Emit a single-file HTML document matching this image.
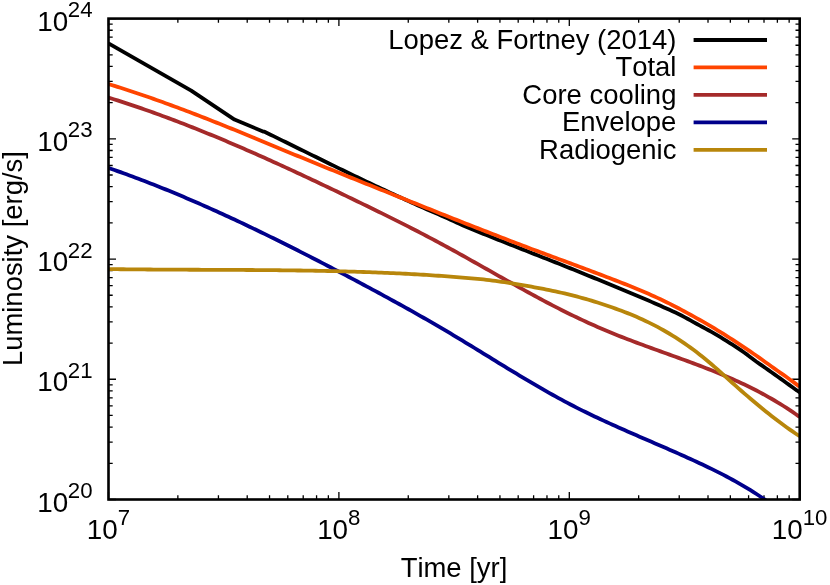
<!DOCTYPE html>
<html><head><meta charset="utf-8"><title>Luminosity vs Time</title>
<style>
html,body{margin:0;padding:0;background:#fff;}
body{width:830px;height:585px;overflow:hidden;position:relative;font-family:"Liberation Sans",sans-serif;}
</style></head><body>
<svg width="830" height="585" viewBox="0 0 830 585" style="position:absolute;left:0;top:0;will-change:transform;font-kerning:none">
<defs><clipPath id="c"><rect x="108.5" y="18.6" width="691.2" height="480.9"/></clipPath></defs>
<rect width="830" height="585" fill="#fff"/>
<path d="M108.50,499.5 v-7.5 M108.50,18.6 v7.5 M177.86,499.5 v-4.2 M177.86,18.6 v4.2 M218.43,499.5 v-4.2 M218.43,18.6 v4.2 M247.21,499.5 v-4.2 M247.21,18.6 v4.2 M269.54,499.5 v-4.2 M269.54,18.6 v4.2 M287.79,499.5 v-4.2 M287.79,18.6 v4.2 M303.21,499.5 v-4.2 M303.21,18.6 v4.2 M316.57,499.5 v-4.2 M316.57,18.6 v4.2 M328.36,499.5 v-4.2 M328.36,18.6 v4.2 M338.90,499.5 v-7.5 M338.90,18.6 v7.5 M408.26,499.5 v-4.2 M408.26,18.6 v4.2 M448.83,499.5 v-4.2 M448.83,18.6 v4.2 M477.61,499.5 v-4.2 M477.61,18.6 v4.2 M499.94,499.5 v-4.2 M499.94,18.6 v4.2 M518.19,499.5 v-4.2 M518.19,18.6 v4.2 M533.61,499.5 v-4.2 M533.61,18.6 v4.2 M546.97,499.5 v-4.2 M546.97,18.6 v4.2 M558.76,499.5 v-4.2 M558.76,18.6 v4.2 M569.30,499.5 v-7.5 M569.30,18.6 v7.5 M638.66,499.5 v-4.2 M638.66,18.6 v4.2 M679.23,499.5 v-4.2 M679.23,18.6 v4.2 M708.01,499.5 v-4.2 M708.01,18.6 v4.2 M730.34,499.5 v-4.2 M730.34,18.6 v4.2 M748.59,499.5 v-4.2 M748.59,18.6 v4.2 M764.01,499.5 v-4.2 M764.01,18.6 v4.2 M777.37,499.5 v-4.2 M777.37,18.6 v4.2 M789.16,499.5 v-4.2 M789.16,18.6 v4.2 M799.70,499.5 v-7.5 M799.70,18.6 v7.5 M108.5,499.50 h7.5 M799.7,499.50 h-7.5 M108.5,463.31 h4.2 M799.7,463.31 h-4.2 M108.5,442.14 h4.2 M799.7,442.14 h-4.2 M108.5,427.12 h4.2 M799.7,427.12 h-4.2 M108.5,415.47 h4.2 M799.7,415.47 h-4.2 M108.5,405.95 h4.2 M799.7,405.95 h-4.2 M108.5,397.90 h4.2 M799.7,397.90 h-4.2 M108.5,390.93 h4.2 M799.7,390.93 h-4.2 M108.5,384.78 h4.2 M799.7,384.78 h-4.2 M108.5,379.27 h7.5 M799.7,379.27 h-7.5 M108.5,343.08 h4.2 M799.7,343.08 h-4.2 M108.5,321.91 h4.2 M799.7,321.91 h-4.2 M108.5,306.89 h4.2 M799.7,306.89 h-4.2 M108.5,295.24 h4.2 M799.7,295.24 h-4.2 M108.5,285.72 h4.2 M799.7,285.72 h-4.2 M108.5,277.67 h4.2 M799.7,277.67 h-4.2 M108.5,270.70 h4.2 M799.7,270.70 h-4.2 M108.5,264.55 h4.2 M799.7,264.55 h-4.2 M108.5,259.05 h7.5 M799.7,259.05 h-7.5 M108.5,222.86 h4.2 M799.7,222.86 h-4.2 M108.5,201.69 h4.2 M799.7,201.69 h-4.2 M108.5,186.67 h4.2 M799.7,186.67 h-4.2 M108.5,175.02 h4.2 M799.7,175.02 h-4.2 M108.5,165.50 h4.2 M799.7,165.50 h-4.2 M108.5,157.45 h4.2 M799.7,157.45 h-4.2 M108.5,150.48 h4.2 M799.7,150.48 h-4.2 M108.5,144.33 h4.2 M799.7,144.33 h-4.2 M108.5,138.83 h7.5 M799.7,138.83 h-7.5 M108.5,102.63 h4.2 M799.7,102.63 h-4.2 M108.5,81.46 h4.2 M799.7,81.46 h-4.2 M108.5,66.44 h4.2 M799.7,66.44 h-4.2 M108.5,54.79 h4.2 M799.7,54.79 h-4.2 M108.5,45.27 h4.2 M799.7,45.27 h-4.2 M108.5,37.22 h4.2 M799.7,37.22 h-4.2 M108.5,30.25 h4.2 M799.7,30.25 h-4.2 M108.5,24.10 h4.2 M799.7,24.10 h-4.2 M108.5,18.60 h7.5 M799.7,18.60 h-7.5" stroke="#000" stroke-width="1.3" fill="none"/>
<g clip-path="url(#c)" fill="none" stroke-width="3.8" stroke-linejoin="round" stroke-linecap="butt">
<path d="M108.5,43.40 L191.2,90.60 L234.5,119.60 L263.6,131.70 L264.5,131.75 L267.5,133.21 L270.5,134.68 L273.5,136.15 L276.5,137.63 L279.5,139.10 L282.5,140.58 L285.5,142.05 L288.5,143.53 L291.5,145.01 L294.5,146.49 L297.5,147.97 L300.5,149.44 L303.5,150.92 L306.5,152.40 L309.5,153.88 L312.5,155.36 L315.5,156.83 L318.5,158.31 L321.5,159.78 L324.5,161.26 L327.5,162.73 L330.5,164.20 L333.5,165.66 L336.5,167.13 L339.5,168.59 L342.5,170.05 L345.5,171.50 L348.5,172.96 L351.5,174.41 L354.5,175.85 L357.5,177.30 L360.5,178.74 L363.5,180.17 L366.5,181.60 L369.5,183.03 L372.5,184.45 L375.5,185.86 L378.5,187.28 L381.5,188.68 L384.5,190.08 L387.5,191.48 L390.5,192.87 L393.5,194.26 L396.5,195.64 L399.5,197.01 L402.5,198.38 L405.5,199.75 L408.5,201.11 L411.5,202.46 L414.5,203.81 L417.5,205.15 L420.5,206.48 L423.5,207.81 L426.5,209.14 L429.5,210.45 L432.5,211.76 L435.5,213.07 L438.5,214.37 L441.5,215.67 L444.5,216.99 L447.5,218.35 L450.5,219.72 L453.5,221.10 L456.5,222.48 L459.5,223.85 L462.5,225.19 L465.5,226.51 L468.5,227.79 L471.5,229.03 L474.5,230.25 L477.5,231.47 L480.5,232.69 L483.5,233.90 L486.5,235.11 L489.5,236.31 L492.5,237.51 L495.5,238.71 L498.5,239.91 L501.5,241.10 L504.5,242.29 L507.5,243.48 L510.5,244.66 L513.5,245.85 L516.5,247.03 L519.5,248.21 L522.5,249.39 L525.5,250.57 L528.5,251.75 L531.5,252.93 L534.5,254.11 L537.5,255.29 L540.5,256.47 L543.5,257.65 L546.5,258.84 L549.5,260.02 L552.5,261.21 L555.5,262.39 L558.5,263.58 L561.5,264.77 L564.5,265.97 L567.5,267.17 L570.5,268.37 L573.5,269.57 L576.5,270.78 L579.5,271.99 L582.5,273.21 L585.5,274.43 L588.5,275.65 L591.5,276.88 L594.5,278.12 L597.5,279.36 L600.5,280.61 L603.5,281.85 L606.5,283.09 L609.5,284.32 L612.5,285.54 L615.5,286.77 L618.5,287.99 L621.5,289.22 L624.5,290.45 L627.5,291.68 L630.5,292.93 L633.5,294.18 L636.5,295.44 L639.5,296.71 L642.5,298.00 L645.5,299.29 L648.5,300.58 L651.5,301.88 L654.5,303.19 L657.5,304.51 L660.5,305.84 L663.5,307.16 L666.5,308.48 L669.5,309.81 L672.5,311.16 L675.5,312.55 L678.5,313.99 L681.5,315.51 L684.5,317.11 L687.5,318.77 L690.5,320.45 L693.5,322.12 L696.5,323.76 L699.5,325.37 L702.5,326.99 L705.5,328.63 L708.5,330.28 L711.5,331.95 L714.5,333.64 L717.5,335.38 L720.5,337.17 L723.5,339.01 L726.5,340.88 L729.5,342.77 L732.5,344.68 L735.5,346.62 L738.5,348.60 L741.5,350.63 L744.5,352.70 L747.5,354.90 L750.5,357.21 L753.5,359.52 L756.5,361.73 L759.5,363.83 L762.5,365.93 L765.5,368.03 L768.5,370.14 L771.5,372.24 L774.5,374.34 L777.5,376.45 L780.5,378.58 L783.5,380.74 L786.5,382.92 L789.5,385.12 L792.5,387.31 L795.5,389.45 L798.5,391.57 L799.7,392.42" stroke="#000000"/>
<path d="M108.5,84.01 L111.5,84.94 L114.5,85.87 L117.5,86.82 L120.5,87.77 L123.5,88.74 L126.5,89.71 L129.5,90.70 L132.5,91.69 L135.5,92.69 L138.5,93.70 L141.5,94.72 L144.5,95.75 L147.5,96.78 L150.5,97.83 L153.5,98.88 L156.5,99.94 L159.5,101.01 L162.5,102.08 L165.5,103.17 L168.5,104.26 L171.5,105.36 L174.5,106.46 L177.5,107.58 L180.5,108.69 L183.5,109.82 L186.5,110.95 L189.5,112.09 L192.5,113.24 L195.5,114.39 L198.5,115.55 L201.5,116.71 L204.5,117.88 L207.5,119.05 L210.5,120.23 L213.5,121.42 L216.5,122.61 L219.5,123.80 L222.5,125.00 L225.5,126.20 L228.5,127.41 L231.5,128.63 L234.5,129.84 L237.5,131.06 L240.5,132.29 L243.5,133.51 L246.5,134.74 L249.5,135.98 L252.5,137.21 L255.5,138.45 L258.5,139.69 L261.5,140.94 L264.5,142.18 L267.5,143.43 L270.5,144.67 L273.5,145.92 L276.5,147.17 L279.5,148.41 L282.5,149.66 L285.5,150.91 L288.5,152.15 L291.5,153.39 L294.5,154.64 L297.5,155.88 L300.5,157.11 L303.5,158.35 L306.5,159.58 L309.5,160.81 L312.5,162.04 L315.5,163.27 L318.5,164.50 L321.5,165.72 L324.5,166.94 L327.5,168.16 L330.5,169.38 L333.5,170.60 L336.5,171.81 L339.5,173.03 L342.5,174.24 L345.5,175.45 L348.5,176.66 L351.5,177.87 L354.5,179.08 L357.5,180.29 L360.5,181.49 L363.5,182.70 L366.5,183.90 L369.5,185.10 L372.5,186.31 L375.5,187.51 L378.5,188.71 L381.5,189.91 L384.5,191.11 L387.5,192.32 L390.5,193.52 L393.5,194.72 L396.5,195.92 L399.5,197.12 L402.5,198.32 L405.5,199.52 L408.5,200.72 L411.5,201.92 L414.5,203.12 L417.5,204.32 L420.5,205.51 L423.5,206.71 L426.5,207.91 L429.5,209.11 L432.5,210.31 L435.5,211.51 L438.5,212.70 L441.5,213.90 L444.5,215.10 L447.5,216.29 L450.5,217.49 L453.5,218.68 L456.5,219.87 L459.5,221.06 L462.5,222.25 L465.5,223.43 L468.5,224.61 L471.5,225.78 L474.5,226.95 L477.5,228.12 L480.5,229.28 L483.5,230.44 L486.5,231.61 L489.5,232.77 L492.5,233.93 L495.5,235.10 L498.5,236.26 L501.5,237.42 L504.5,238.58 L507.5,239.74 L510.5,240.90 L513.5,242.05 L516.5,243.20 L519.5,244.35 L522.5,245.50 L525.5,246.64 L528.5,247.78 L531.5,248.91 L534.5,250.03 L537.5,251.15 L540.5,252.27 L543.5,253.38 L546.5,254.49 L549.5,255.60 L552.5,256.71 L555.5,257.82 L558.5,258.93 L561.5,260.04 L564.5,261.15 L567.5,262.27 L570.5,263.38 L573.5,264.49 L576.5,265.61 L579.5,266.73 L582.5,267.85 L585.5,268.97 L588.5,270.09 L591.5,271.22 L594.5,272.35 L597.5,273.49 L600.5,274.63 L603.5,275.77 L606.5,276.92 L609.5,278.06 L612.5,279.21 L615.5,280.37 L618.5,281.53 L621.5,282.70 L624.5,283.87 L627.5,285.06 L630.5,286.26 L633.5,287.47 L636.5,288.70 L639.5,289.95 L642.5,291.21 L645.5,292.50 L648.5,293.81 L651.5,295.14 L654.5,296.50 L657.5,297.88 L660.5,299.29 L663.5,300.73 L666.5,302.19 L669.5,303.67 L672.5,305.19 L675.5,306.72 L678.5,308.29 L681.5,309.88 L684.5,311.48 L687.5,313.09 L690.5,314.72 L693.5,316.37 L696.5,318.04 L699.5,319.74 L702.5,321.44 L705.5,323.16 L708.5,324.90 L711.5,326.66 L714.5,328.47 L717.5,330.29 L720.5,332.11 L723.5,333.95 L726.5,335.83 L729.5,337.75 L732.5,339.70 L735.5,341.66 L738.5,343.61 L741.5,345.57 L744.5,347.57 L747.5,349.60 L750.5,351.65 L753.5,353.72 L756.5,355.79 L759.5,357.88 L762.5,360.01 L765.5,362.17 L768.5,364.33 L771.5,366.48 L774.5,368.61 L777.5,370.72 L780.5,372.82 L783.5,374.92 L786.5,377.05 L789.5,379.20 L792.5,381.39 L795.5,383.62 L798.5,385.88 L799.7,386.79" stroke="#ff4500"/>
<path d="M108.5,97.60 L111.5,98.54 L114.5,99.48 L117.5,100.43 L120.5,101.39 L123.5,102.37 L126.5,103.35 L129.5,104.34 L132.5,105.35 L135.5,106.36 L138.5,107.39 L141.5,108.42 L144.5,109.46 L147.5,110.51 L150.5,111.58 L153.5,112.65 L156.5,113.73 L159.5,114.82 L162.5,115.92 L165.5,117.02 L168.5,118.14 L171.5,119.27 L174.5,120.40 L177.5,121.54 L180.5,122.69 L183.5,123.85 L186.5,125.02 L189.5,126.19 L192.5,127.37 L195.5,128.56 L198.5,129.76 L201.5,130.97 L204.5,132.18 L207.5,133.40 L210.5,134.63 L213.5,135.86 L216.5,137.11 L219.5,138.35 L222.5,139.61 L225.5,140.87 L228.5,142.14 L231.5,143.42 L234.5,144.70 L237.5,145.99 L240.5,147.28 L243.5,148.58 L246.5,149.89 L249.5,151.20 L252.5,152.52 L255.5,153.84 L258.5,155.17 L261.5,156.51 L264.5,157.85 L267.5,159.19 L270.5,160.54 L273.5,161.90 L276.5,163.26 L279.5,164.63 L282.5,166.00 L285.5,167.37 L288.5,168.75 L291.5,170.13 L294.5,171.52 L297.5,172.91 L300.5,174.31 L303.5,175.71 L306.5,177.11 L309.5,178.52 L312.5,179.93 L315.5,181.34 L318.5,182.76 L321.5,184.18 L324.5,185.61 L327.5,187.04 L330.5,188.47 L333.5,189.90 L336.5,191.33 L339.5,192.77 L342.5,194.21 L345.5,195.66 L348.5,197.10 L351.5,198.55 L354.5,200.00 L357.5,201.45 L360.5,202.91 L363.5,204.37 L366.5,205.82 L369.5,207.29 L372.5,208.75 L375.5,210.22 L378.5,211.69 L381.5,213.17 L384.5,214.65 L387.5,216.13 L390.5,217.62 L393.5,219.12 L396.5,220.62 L399.5,222.13 L402.5,223.64 L405.5,225.16 L408.5,226.68 L411.5,228.21 L414.5,229.75 L417.5,231.30 L420.5,232.85 L423.5,234.41 L426.5,235.98 L429.5,237.56 L432.5,239.15 L435.5,240.75 L438.5,242.35 L441.5,243.97 L444.5,245.59 L447.5,247.23 L450.5,248.87 L453.5,250.52 L456.5,252.18 L459.5,253.84 L462.5,255.51 L465.5,257.19 L468.5,258.86 L471.5,260.55 L474.5,262.24 L477.5,263.93 L480.5,265.62 L483.5,267.31 L486.5,269.01 L489.5,270.70 L492.5,272.40 L495.5,274.09 L498.5,275.79 L501.5,277.48 L504.5,279.17 L507.5,280.85 L510.5,282.53 L513.5,284.21 L516.5,285.88 L519.5,287.55 L522.5,289.21 L525.5,290.87 L528.5,292.51 L531.5,294.15 L534.5,295.78 L537.5,297.40 L540.5,299.01 L543.5,300.61 L546.5,302.20 L549.5,303.78 L552.5,305.34 L555.5,306.89 L558.5,308.43 L561.5,309.95 L564.5,311.46 L567.5,312.95 L570.5,314.43 L573.5,315.88 L576.5,317.32 L579.5,318.75 L582.5,320.15 L585.5,321.54 L588.5,322.91 L591.5,324.27 L594.5,325.60 L597.5,326.92 L600.5,328.22 L603.5,329.51 L606.5,330.77 L609.5,332.02 L612.5,333.26 L615.5,334.47 L618.5,335.67 L621.5,336.86 L624.5,338.03 L627.5,339.19 L630.5,340.34 L633.5,341.48 L636.5,342.60 L639.5,343.72 L642.5,344.83 L645.5,345.93 L648.5,347.03 L651.5,348.12 L654.5,349.21 L657.5,350.29 L660.5,351.37 L663.5,352.45 L666.5,353.53 L669.5,354.61 L672.5,355.69 L675.5,356.78 L678.5,357.86 L681.5,358.95 L684.5,360.05 L687.5,361.15 L690.5,362.26 L693.5,363.38 L696.5,364.50 L699.5,365.64 L702.5,366.78 L705.5,367.94 L708.5,369.11 L711.5,370.30 L714.5,371.50 L717.5,372.71 L720.5,373.95 L723.5,375.20 L726.5,376.47 L729.5,377.76 L732.5,379.08 L735.5,380.42 L738.5,381.78 L741.5,383.17 L744.5,384.59 L747.5,386.03 L750.5,387.51 L753.5,389.01 L756.5,390.55 L759.5,392.12 L762.5,393.72 L765.5,395.36 L768.5,397.04 L771.5,398.75 L774.5,400.51 L777.5,402.30 L780.5,404.13 L783.5,406.01 L786.5,407.93 L789.5,409.90 L792.5,411.91 L795.5,413.98 L798.5,416.08 L799.7,416.94" stroke="#a52a2a"/>
<path d="M108.5,167.95 L111.5,168.99 L114.5,170.03 L117.5,171.09 L120.5,172.16 L123.5,173.24 L126.5,174.33 L129.5,175.43 L132.5,176.54 L135.5,177.66 L138.5,178.79 L141.5,179.93 L144.5,181.08 L147.5,182.24 L150.5,183.40 L153.5,184.58 L156.5,185.77 L159.5,186.96 L162.5,188.17 L165.5,189.38 L168.5,190.61 L171.5,191.84 L174.5,193.08 L177.5,194.33 L180.5,195.59 L183.5,196.85 L186.5,198.13 L189.5,199.41 L192.5,200.70 L195.5,202.00 L198.5,203.31 L201.5,204.63 L204.5,205.95 L207.5,207.28 L210.5,208.62 L213.5,209.96 L216.5,211.32 L219.5,212.68 L222.5,214.05 L225.5,215.42 L228.5,216.80 L231.5,218.19 L234.5,219.59 L237.5,220.99 L240.5,222.40 L243.5,223.81 L246.5,225.24 L249.5,226.67 L252.5,228.10 L255.5,229.54 L258.5,230.99 L261.5,232.44 L264.5,233.90 L267.5,235.37 L270.5,236.84 L273.5,238.31 L276.5,239.79 L279.5,241.28 L282.5,242.77 L285.5,244.27 L288.5,245.77 L291.5,247.28 L294.5,248.79 L297.5,250.31 L300.5,251.83 L303.5,253.36 L306.5,254.89 L309.5,256.43 L312.5,257.97 L315.5,259.51 L318.5,261.06 L321.5,262.62 L324.5,264.17 L327.5,265.73 L330.5,267.30 L333.5,268.87 L336.5,270.44 L339.5,272.01 L342.5,273.59 L345.5,275.18 L348.5,276.76 L351.5,278.35 L354.5,279.94 L357.5,281.54 L360.5,283.13 L363.5,284.73 L366.5,286.34 L369.5,287.95 L372.5,289.56 L375.5,291.17 L378.5,292.79 L381.5,294.42 L384.5,296.05 L387.5,297.68 L390.5,299.32 L393.5,300.96 L396.5,302.61 L399.5,304.27 L402.5,305.93 L405.5,307.59 L408.5,309.27 L411.5,310.95 L414.5,312.63 L417.5,314.32 L420.5,316.03 L423.5,317.73 L426.5,319.45 L429.5,321.17 L432.5,322.90 L435.5,324.64 L438.5,326.39 L441.5,328.15 L444.5,329.91 L447.5,331.68 L450.5,333.47 L453.5,335.26 L456.5,337.06 L459.5,338.87 L462.5,340.69 L465.5,342.51 L468.5,344.34 L471.5,346.17 L474.5,348.00 L477.5,349.84 L480.5,351.69 L483.5,353.53 L486.5,355.38 L489.5,357.22 L492.5,359.07 L495.5,360.91 L498.5,362.76 L501.5,364.60 L504.5,366.43 L507.5,368.27 L510.5,370.09 L513.5,371.92 L516.5,373.73 L519.5,375.54 L522.5,377.34 L525.5,379.13 L528.5,380.92 L531.5,382.69 L534.5,384.45 L537.5,386.20 L540.5,387.94 L543.5,389.67 L546.5,391.38 L549.5,393.07 L552.5,394.76 L555.5,396.42 L558.5,398.07 L561.5,399.70 L564.5,401.32 L567.5,402.91 L570.5,404.48 L573.5,406.04 L576.5,407.57 L579.5,409.09 L582.5,410.59 L585.5,412.07 L588.5,413.53 L591.5,414.98 L594.5,416.42 L597.5,417.84 L600.5,419.24 L603.5,420.63 L606.5,422.02 L609.5,423.39 L612.5,424.75 L615.5,426.10 L618.5,427.44 L621.5,428.77 L624.5,430.10 L627.5,431.42 L630.5,432.73 L633.5,434.04 L636.5,435.35 L639.5,436.65 L642.5,437.95 L645.5,439.25 L648.5,440.54 L651.5,441.84 L654.5,443.14 L657.5,444.44 L660.5,445.74 L663.5,447.04 L666.5,448.34 L669.5,449.66 L672.5,450.97 L675.5,452.29 L678.5,453.62 L681.5,454.96 L684.5,456.30 L687.5,457.65 L690.5,459.02 L693.5,460.39 L696.5,461.77 L699.5,463.17 L702.5,464.58 L705.5,466.00 L708.5,467.44 L711.5,468.90 L714.5,470.37 L717.5,471.87 L720.5,473.38 L723.5,474.92 L726.5,476.49 L729.5,478.09 L732.5,479.71 L735.5,481.37 L738.5,483.06 L741.5,484.78 L744.5,486.55 L747.5,488.35 L750.5,490.19 L753.5,492.08 L756.5,494.01 L759.5,495.98 L762.5,498.01 L765.5,500.08 L768.5,502.21 L771.5,504.39 L774.5,506.62 L777.5,508.92 L780.5,511.27 L783.5,513.68 L786.5,516.16 L789.5,518.70 L792.5,521.31 L795.5,523.98 L798.5,526.73 L799.7,527.85" stroke="#00008b"/>
<path d="M108.5,269.07 L111.5,269.11 L114.5,269.15 L117.5,269.19 L120.5,269.23 L123.5,269.26 L126.5,269.30 L129.5,269.33 L132.5,269.36 L135.5,269.39 L138.5,269.42 L141.5,269.44 L144.5,269.47 L147.5,269.49 L150.5,269.52 L153.5,269.54 L156.5,269.56 L159.5,269.58 L162.5,269.59 L165.5,269.61 L168.5,269.63 L171.5,269.64 L174.5,269.66 L177.5,269.67 L180.5,269.69 L183.5,269.70 L186.5,269.72 L189.5,269.73 L192.5,269.74 L195.5,269.75 L198.5,269.77 L201.5,269.78 L204.5,269.79 L207.5,269.80 L210.5,269.81 L213.5,269.83 L216.5,269.84 L219.5,269.85 L222.5,269.86 L225.5,269.88 L228.5,269.89 L231.5,269.90 L234.5,269.92 L237.5,269.93 L240.5,269.95 L243.5,269.97 L246.5,269.99 L249.5,270.00 L252.5,270.02 L255.5,270.04 L258.5,270.07 L261.5,270.09 L264.5,270.11 L267.5,270.14 L270.5,270.16 L273.5,270.19 L276.5,270.22 L279.5,270.25 L282.5,270.29 L285.5,270.32 L288.5,270.36 L291.5,270.39 L294.5,270.43 L297.5,270.48 L300.5,270.52 L303.5,270.56 L306.5,270.61 L309.5,270.66 L312.5,270.71 L315.5,270.77 L318.5,270.82 L321.5,270.88 L324.5,270.94 L327.5,271.01 L330.5,271.07 L333.5,271.14 L336.5,271.22 L339.5,271.29 L342.5,271.37 L345.5,271.45 L348.5,271.53 L351.5,271.62 L354.5,271.71 L357.5,271.80 L360.5,271.90 L363.5,272.00 L366.5,272.10 L369.5,272.20 L372.5,272.31 L375.5,272.43 L378.5,272.54 L381.5,272.66 L384.5,272.79 L387.5,272.92 L390.5,273.05 L393.5,273.18 L396.5,273.32 L399.5,273.47 L402.5,273.61 L405.5,273.77 L408.5,273.92 L411.5,274.08 L414.5,274.25 L417.5,274.42 L420.5,274.59 L423.5,274.77 L426.5,274.95 L429.5,275.14 L432.5,275.33 L435.5,275.53 L438.5,275.73 L441.5,275.94 L444.5,276.15 L447.5,276.36 L450.5,276.59 L453.5,276.81 L456.5,277.05 L459.5,277.29 L462.5,277.53 L465.5,277.78 L468.5,278.04 L471.5,278.31 L474.5,278.59 L477.5,278.87 L480.5,279.16 L483.5,279.47 L486.5,279.80 L489.5,280.16 L492.5,280.53 L495.5,280.92 L498.5,281.33 L501.5,281.76 L504.5,282.20 L507.5,282.65 L510.5,283.12 L513.5,283.61 L516.5,284.10 L519.5,284.61 L522.5,285.13 L525.5,285.66 L528.5,286.19 L531.5,286.73 L534.5,287.28 L537.5,287.84 L540.5,288.40 L543.5,288.97 L546.5,289.56 L549.5,290.16 L552.5,290.78 L555.5,291.42 L558.5,292.08 L561.5,292.76 L564.5,293.45 L567.5,294.17 L570.5,294.90 L573.5,295.66 L576.5,296.44 L579.5,297.24 L582.5,298.06 L585.5,298.90 L588.5,299.77 L591.5,300.66 L594.5,301.57 L597.5,302.51 L600.5,303.47 L603.5,304.46 L606.5,305.46 L609.5,306.48 L612.5,307.53 L615.5,308.60 L618.5,309.69 L621.5,310.81 L624.5,311.95 L627.5,313.13 L630.5,314.34 L633.5,315.58 L636.5,316.85 L639.5,318.16 L642.5,319.52 L645.5,320.91 L648.5,322.35 L651.5,323.83 L654.5,325.36 L657.5,326.94 L660.5,328.58 L663.5,330.26 L666.5,331.99 L669.5,333.76 L672.5,335.59 L675.5,337.46 L678.5,339.39 L681.5,341.37 L684.5,343.40 L687.5,345.49 L690.5,347.63 L693.5,349.83 L696.5,352.10 L699.5,354.42 L702.5,356.80 L705.5,359.25 L708.5,361.75 L711.5,364.31 L714.5,366.91 L717.5,369.55 L720.5,372.22 L723.5,374.90 L726.5,377.60 L729.5,380.29 L732.5,382.98 L735.5,385.66 L738.5,388.32 L741.5,390.96 L744.5,393.57 L747.5,396.17 L750.5,398.74 L753.5,401.28 L756.5,403.80 L759.5,406.29 L762.5,408.75 L765.5,411.18 L768.5,413.58 L771.5,415.94 L774.5,418.27 L777.5,420.56 L780.5,422.82 L783.5,425.03 L786.5,427.21 L789.5,429.34 L792.5,431.43 L795.5,433.47 L798.5,435.47 L799.7,436.26" stroke="#b8860b"/>
</g>
<path d="M693.6,40.0 H767" stroke="#000000" stroke-width="3.8" fill="none"/>
<path d="M693.6,67.45 H767" stroke="#ff4500" stroke-width="3.8" fill="none"/>
<path d="M693.6,94.9 H767" stroke="#a52a2a" stroke-width="3.8" fill="none"/>
<path d="M693.6,122.35 H767" stroke="#00008b" stroke-width="3.8" fill="none"/>
<path d="M693.6,149.8 H767" stroke="#b8860b" stroke-width="3.8" fill="none"/>
<rect x="108.5" y="18.6" width="691.2" height="480.9" fill="none" stroke="#000" stroke-width="2.6"/>
<text x="92.5" y="511.5" font-family="Liberation Sans, sans-serif" font-size="27.8" text-anchor="end" fill="#000">10<tspan font-size="22.24" dy="-13.4" dx="-0.5">20</tspan></text>
<text x="92.5" y="391.27" font-family="Liberation Sans, sans-serif" font-size="27.8" text-anchor="end" fill="#000">10<tspan font-size="22.24" dy="-13.4" dx="-0.5">21</tspan></text>
<text x="92.5" y="271.05" font-family="Liberation Sans, sans-serif" font-size="27.8" text-anchor="end" fill="#000">10<tspan font-size="22.24" dy="-13.4" dx="-0.5">22</tspan></text>
<text x="92.5" y="150.83" font-family="Liberation Sans, sans-serif" font-size="27.8" text-anchor="end" fill="#000">10<tspan font-size="22.24" dy="-13.4" dx="-0.5">23</tspan></text>
<text x="92.5" y="30.6" font-family="Liberation Sans, sans-serif" font-size="27.8" text-anchor="end" fill="#000">10<tspan font-size="22.24" dy="-13.4" dx="-0.5">24</tspan></text>
<text x="108.4" y="538.6" font-family="Liberation Sans, sans-serif" font-size="27.8" text-anchor="middle" fill="#000">10<tspan font-size="22.24" dy="-13.4" dx="0">7</tspan></text>
<text x="338.8" y="538.6" font-family="Liberation Sans, sans-serif" font-size="27.8" text-anchor="middle" fill="#000">10<tspan font-size="22.24" dy="-13.4" dx="0">8</tspan></text>
<text x="569.2" y="538.6" font-family="Liberation Sans, sans-serif" font-size="27.8" text-anchor="middle" fill="#000">10<tspan font-size="22.24" dy="-13.4" dx="0">9</tspan></text>
<text x="799.6" y="538.6" font-family="Liberation Sans, sans-serif" font-size="27.8" text-anchor="middle" fill="#000">10<tspan font-size="22.24" dy="-13.4" dx="0">10</tspan></text>
<text x="676.4" y="48.9" font-family="Liberation Sans, sans-serif" font-size="27.45" text-anchor="end" fill="#000">Lopez &amp; Fortney (2014)</text>
<text x="676.4" y="76.4" font-family="Liberation Sans, sans-serif" font-size="27.45" text-anchor="end" fill="#000">Total</text>
<text x="676.4" y="103.8" font-family="Liberation Sans, sans-serif" font-size="27.45" text-anchor="end" fill="#000">Core cooling</text>
<text x="676.4" y="131.2" font-family="Liberation Sans, sans-serif" font-size="27.45" text-anchor="end" fill="#000">Envelope</text>
<text x="676.4" y="158.7" font-family="Liberation Sans, sans-serif" font-size="27.45" text-anchor="end" fill="#000">Radiogenic</text>
<text x="454" y="576.9" font-family="Liberation Sans, sans-serif" font-size="27.45" text-anchor="middle" fill="#000">Time [yr]</text>
<text transform="translate(21.7,258.6) rotate(-90)" font-family="Liberation Sans, sans-serif" font-size="27.45" text-anchor="middle" fill="#000">Luminosity [erg/s]</text>
</svg>
</body></html>
